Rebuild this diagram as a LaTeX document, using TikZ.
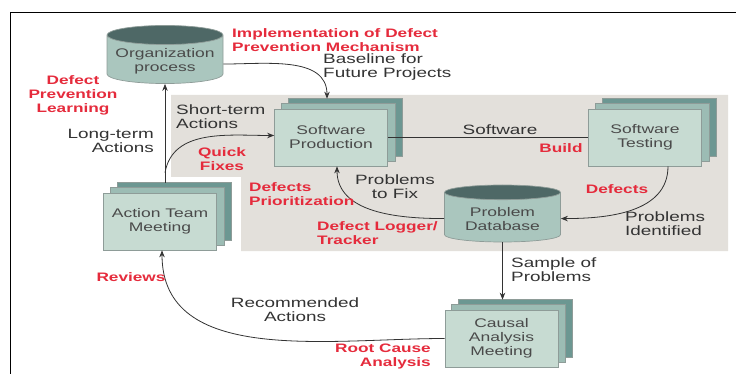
\documentclass[tikz,border=0pt]{standalone}
\usepackage{fontspec}
\setmainfont{Liberation Sans}[FakeStretch=1.4]
\usetikzlibrary{positioning,shapes.geometric,arrows.meta}

\definecolor{panelgray}{HTML}{E3E0DB}
\definecolor{frontfill}{HTML}{C7DBD2}
\definecolor{midfill}{HTML}{9CBCB4}
\definecolor{backfill}{HTML}{6C9792}
\definecolor{cylbody}{HTML}{AAC6BE}
\definecolor{cyltop}{HTML}{4E6866}
\definecolor{edgegray}{HTML}{8E9C98}
\definecolor{notered}{HTML}{E52B3C}
\definecolor{inkgray}{HTML}{333333}
\definecolor{boxtext}{HTML}{4A4A4A}

\pgfdeclarelayer{back}
\pgfsetlayers{back,main}

% two copies behind a box
\newcommand{\stacklayers}[1]{%
  \begin{pgfonlayer}{back}
    \filldraw[layer back] ([shift={(14,10)}]#1.south west) rectangle ([shift={(14,10)}]#1.north east);
    \filldraw[layer mid] ([shift={(7,5)}]#1.south west) rectangle ([shift={(7,5)}]#1.north east);
  \end{pgfonlayer}}

\begin{document}
\begin{tikzpicture}[
    x=1pt, y=1pt,
    box/.style={rectangle, draw=edgegray, line width=0.7pt, fill=frontfill, minimum width=113pt, minimum height=57pt, align=center, text=boxtext, font=\fontsize{12.5}{14}\selectfont},
    store/.style={cylinder, shape border rotate=90, aspect=0.18, anchor=shape center, draw=edgegray, line width=0.7pt, cylinder uses custom fill, cylinder body fill=cylbody, cylinder end fill=cyltop, minimum width=116pt, minimum height=57pt, align=center, text=boxtext, font=\fontsize{12.5}{14}\selectfont},
    layer mid/.style={fill=midfill, draw=edgegray, line width=0.5pt},
    layer back/.style={fill=backfill, draw=edgegray, line width=0.5pt},
    note/.style={text=inkgray, inner sep=0pt, font=\fontsize{13.5}{14}\selectfont},
    redtag/.style={text=notered, inner sep=0pt, font=\bfseries\fontsize{12.3}{14}\selectfont},
    flow/.style={draw=inkgray, line width=0.8pt, -{Stealth[length=7pt,width=5.5pt]}}
]
\useasboundingbox (0,0) rectangle (736,-374);

% Frame and panel
\draw[line width=1.3pt] (10.7,-374) |- (736,-12.7);
\begin{pgfonlayer}{back}
  \fill[panelgray] (171,-95) -- (728,-95) -- (728,-251) -- (241,-251) -- (241,-177) -- (171,-177) -- cycle;
\end{pgfonlayer}

% Nodes
\node (org)  [store] at (165,-54.5)  {Organization\\process};
\node (sp)   [box]   at (331,-137.5) {Software\\Production};
\node (st)   [box]   at (645,-137.5) {Software\\Testing};
\node (db)   [store] at (502.5,-213.5) {Problem\\Database};
\node (atm)  [box]   at (160,-221.5) {Action Team\\Meeting};
\node (cam)  [box]   at (501.5,-338.5) {Causal\\Analysis\\Meeting};
\stacklayers{sp}
\stacklayers{st}
\stacklayers{atm}
\stacklayers{cam}

\coordinate (ltbase) at ([yshift=10pt]atm.north -| org.south);
\coordinate (fork)   at ([yshift=10pt]ltbase);

% Arrows
\draw[flow] ([yshift=-3pt]org.east) to[out=0,in=90] ([shift={(-4,10)}]sp.north);
\draw[flow] (ltbase) -- (org.south);
\draw[flow] (fork) to[out=80,in=180] ([yshift=2pt]sp.west);
\draw[draw=inkgray, line width=0.8pt] (sp.east) -- (st.west);
\draw[flow] ([xshift=23pt]st.south) to[out=-90,in=0] (db.east);
\draw[flow] (db.west) to[out=180,in=-90] ([xshift=6pt]sp.south);
\draw[flow] (db.south) -- ([yshift=10pt]cam.north -| db.south);
\draw[flow] (cam.west) to[out=180,in=-90] ([xshift=2pt]atm.south);

% Labels
\node (impl)  [redtag, anchor=west, align=left]  at (232,-40)    {Implementation of Defect\\Prevention Mechanism};
\node (base)  [note, anchor=west, align=left]    at (323,-67)    {Baseline for\\Future Projects};
\node (dpl)   [redtag, align=center]             at (73,-95)     {Defect\\Prevention\\Learning};
\node (lta)   [note, anchor=east, align=right]   at (154,-140.5) {Long-term\\Actions};
\node (sta)   [note, anchor=west, align=left]    at (176,-117)   {Short-term\\Actions};
\node (qfix)  [redtag, align=center]             at (222,-159.5) {Quick\\Fixes};
\node (swl)   [note]                             at (500,-130)   {Software};
\node (build) [redtag]                           at (561,-148)   {Build};
\node (defs)  [redtag]                           at (617,-189)   {Defects};
\node (pid)   [note, anchor=west, align=left]    at (625,-224)   {Problems\\Identified};
\node (ptf)   [note, align=center]               at (395,-187)   {Problems\\to Fix};
\node (dpri)  [redtag, anchor=west, align=left]  at (249,-194.5) {Defects\\Prioritization};
\node (dlog)  [redtag, anchor=west, align=left]  at (317,-233)   {Defect Logger/\\Tracker};
\node (sop)   [note, anchor=west, align=left]    at (511,-270)   {Sample of\\Problems};
\node (rec)   [note, align=center]               at (295,-310)   {Recommended\\Actions};
\node (rev)   [redtag]                           at (131,-277)   {Reviews};
\node (rca)   [redtag, anchor=east, align=right] at (431,-356)   {Root Cause\\Analysis};

\end{tikzpicture}
\end{document}
